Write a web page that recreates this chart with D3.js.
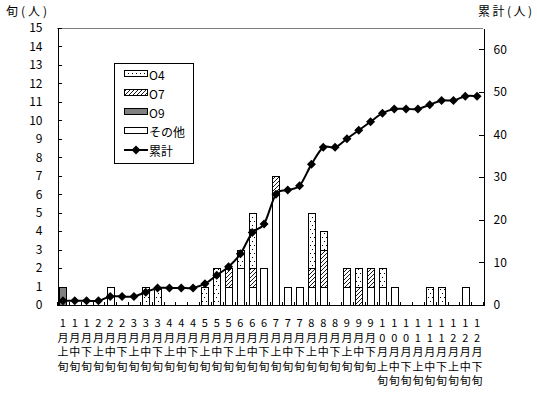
<!DOCTYPE html>
<html><head><meta charset="utf-8">
<script src="https://cdn.jsdelivr.net/npm/d3@7"></script>
<style>
html,body{margin:0;padding:0;background:#fff;}
svg{display:block;font-family:"Noto Sans CJK JP","Noto Sans",sans-serif;}
</style>
</head><body>
<svg id="chart" width="537" height="397"></svg>
<script>
// ---- data ----
const months = ["1","1","1","2","2","2","3","3","3","4","4","4","5","5","5","6","6","6",
                "7","7","7","8","8","8","9","9","9","10","10","10","11","11","11","12","12","12"];
const periods = ["上","中","下","上","中","下","上","中","下","上","中","下","上","中","下","上","中","下",
                 "上","中","下","上","中","下","上","中","下","上","中","下","上","中","下","上","中","下"];
const categories = months.map((m, i) => m + "月" + periods[i] + "旬");

const seriesNames = ["その他", "O9", "O7", "O4"]; // stacking order bottom -> top
const other = [0,0,0,0,1,0,0,0,0,0,0,0,0,0,1,2,1,2,6,1,1,1,1,0,1,0,1,1,1,0,0,0,0,0,1,0];
const o9    = [1,0,0,0,0,0,0,0,0,0,0,0,0,0,0,0,0,0,0,0,0,0,0,0,0,0,0,0,0,0,0,0,0,0,0,0];
const o7    = [0,0,0,0,0,0,0,0,0,0,0,0,0,0,1,0,1,0,1,0,0,1,2,0,1,1,1,0,0,0,0,0,0,0,0,0];
const o4    = [0,0,0,0,0,0,0,1,1,0,0,0,1,2,0,1,3,0,0,0,0,3,1,0,0,1,0,1,0,0,0,1,1,0,0,0];
const cumulative = [1,1,1,1,2,2,2,3,4,4,4,4,5,7,9,12,17,19,26,27,28,33,37,37,39,41,43,45,46,46,46,47,48,48,49,49];

const leftTicks = [0,1,2,3,4,5,6,7,8,9,10,11,12,13,14,15];
const rightTicks = [0,10,20,30,40,50,60];
const leftTitle = "旬(人)";
const rightTitle = "累計(人)";
const legendLabels = ["O4", "O7", "O9", "その他", "累計"];

// ---- layout ----
const L = 57, R = 483, T = 28, B = 305;
const svg = d3.select("#chart");

const defs = svg.append("defs");
const dots = defs.append("pattern").attr("id","pDots").attr("patternUnits","userSpaceOnUse")
  .attr("width",4).attr("height",8);
dots.append("rect").attr("width",4).attr("height",8).attr("fill","#fff");
dots.append("rect").attr("x",0).attr("y",1).attr("width",1).attr("height",1).attr("fill","#000");
dots.append("rect").attr("x",2).attr("y",5).attr("width",1).attr("height",1).attr("fill","#000");
const hatch = defs.append("pattern").attr("id","pHatch").attr("patternUnits","userSpaceOnUse")
  .attr("width",4).attr("height",4);
hatch.append("rect").attr("width",4).attr("height",4).attr("fill","#fff");
hatch.append("path").attr("d","M-1,1 L1,-1 M0,4 L4,0 M3,5 L5,3").attr("stroke","#000").attr("stroke-width",0.9);

const fills = {"その他":"#ffffff","O9":"#808080","O7":"url(#pHatch)","O4":"url(#pDots)"};
const valuesBy = {"その他":other,"O9":o9,"O7":o7,"O4":o4};

const x = d3.scaleBand().domain(categories).range([L,R]).paddingInner(0.375).paddingOuter(0.1875);
const xi = d3.scaleLinear().domain([0,categories.length]).range([L,R]);
const y = d3.scaleLinear().domain([0,15]).range([B,T]);
const yR = d3.scaleLinear().domain([0,65]).range([B,T]);

// stacked data
const table = categories.map((c,i) => {
  const o = {cat:c};
  seriesNames.forEach(s => o[s] = valuesBy[s][i]);
  return o;
});
const stacked = d3.stack().keys(seriesNames)(table);

// bars
const gBars = svg.append("g").attr("shape-rendering","crispEdges");
stacked.forEach(layer => {
  gBars.selectAll(null).data(layer.filter(d => d[1] - d[0] > 0)).enter().append("rect")
    .attr("x", d => Math.round(x(d.data.cat)) + 0.5)
    .attr("width", Math.round(x.bandwidth()))
    .attr("y", d => Math.round(y(d[1])) + 0.5)
    .attr("height", d => Math.round(y(d[0])) - Math.round(y(d[1])))
    .attr("fill", fills[layer.key])
    .attr("stroke","#000").attr("stroke-width",1);
});

// plot top border
svg.append("line").attr("x1",L).attr("x2",R).attr("y1",T+0.5).attr("y2",T+0.5)
  .attr("stroke","#808080").attr("shape-rendering","crispEdges");

// left axis
const axL = svg.append("g").attr("transform",`translate(${L+0.5},0)`)
  .call(d3.axisLeft(y).tickValues(leftTicks).tickSize(-4).tickSizeOuter(0).tickPadding(15));
// right axis
const axR = svg.append("g").attr("transform",`translate(${R+0.5},0)`)
  .call(d3.axisRight(yR).tickValues(rightTicks).tickSize(-5).tickSizeOuter(0).tickPadding(10));
[axL, axR].forEach(a => {
  a.selectAll("path,line").attr("stroke","#000").attr("shape-rendering","crispEdges");
  a.selectAll("text").attr("font-size",12).attr("fill","#000")
   .attr("font-family","'Noto Sans CJK JP','Noto Sans',sans-serif");
});

// bottom axis line & ticks
svg.append("line").attr("x1",L).attr("x2",R+1).attr("y1",B+0.5).attr("y2",B+0.5)
  .attr("stroke","#000").attr("shape-rendering","crispEdges");
svg.append("g").selectAll("line").data(d3.range(categories.length+1)).enter().append("line")
  .attr("x1", d => Math.round(xi(d))+0.5).attr("x2", d => Math.round(xi(d))+0.5)
  .attr("y1", B).attr("y2", B-3).attr("stroke","#000").attr("shape-rendering","crispEdges");

// x labels, stacked vertically
const gX = svg.append("g").attr("font-size",11).attr("fill","#000").attr("text-anchor","middle");
categories.forEach((c,i) => {
  const chars = [...months[i], "月", periods[i], "旬"];
  const cx = x(c) + x.bandwidth()/2;
  chars.forEach((ch,k) => {
    gX.append("text").attr("x",cx).attr("y",322 + k*14.5)
      .attr("dominant-baseline","central").text(ch);
  });
});

// cumulative line
const cx = d => x(d) + x.bandwidth()/2;
const line = d3.line().x((d,i) => cx(categories[i])).y(d => yR(d)).curve(d3.curveCardinal.tension(0));
svg.append("path").datum(cumulative).attr("d",line).attr("fill","none")
  .attr("stroke","#000").attr("stroke-width",2);
const diamond = "M0,-4.5L4.5,0L0,4.5L-4.5,0Z";
svg.append("g").selectAll("path").data(cumulative).enter().append("path")
  .attr("d",diamond)
  .attr("transform",(d,i) => `translate(${cx(categories[i])},${yR(d)})`)
  .attr("fill","#000");

// axis titles
svg.append("text").attr("x",6).attr("y",10).attr("dominant-baseline","central")
  .attr("font-size",12).attr("textLength",41).attr("lengthAdjust","spacing").text(leftTitle);
svg.append("text").attr("x",478).attr("y",10).attr("dominant-baseline","central")
  .attr("font-size",12).attr("textLength",54).attr("lengthAdjust","spacing").text(rightTitle);

// legend
const lg = svg.append("g");
lg.append("rect").attr("x",114.5).attr("y",63.5).attr("width",79).attr("height",100)
  .attr("fill","#fff").attr("stroke","#000").attr("shape-rendering","crispEdges");
const legendFills = [fills["O4"], fills["O7"], fills["O9"], fills["その他"]];
legendLabels.forEach((lab,k) => {
  const yy = 74 + k*19;
  if (k < 4) {
    lg.append("rect").attr("x",124.5).attr("y",yy-3.5).attr("width",23).attr("height",6)
      .attr("fill",legendFills[k]).attr("stroke","#000").attr("shape-rendering","crispEdges");
  } else {
    lg.append("line").attr("x1",124).attr("x2",148).attr("y1",yy).attr("y2",yy)
      .attr("stroke","#000").attr("stroke-width",2);
    lg.append("path").attr("d",diamond).attr("transform",`translate(136,${yy})`).attr("fill","#000");
  }
  lg.append("text").attr("x",149).attr("y",yy).attr("dominant-baseline","central")
    .attr("font-size",12).text(lab);
});
</script>
</body></html>
